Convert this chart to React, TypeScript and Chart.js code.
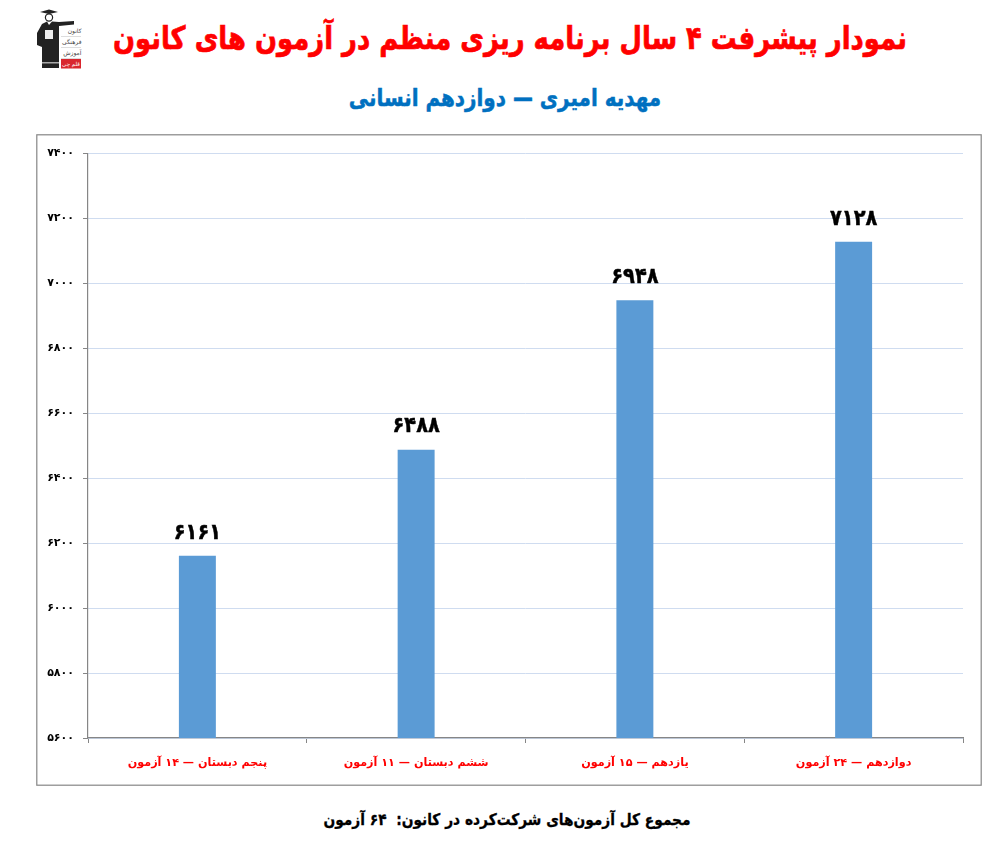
import React, { useEffect, useRef } from "react";
import { Chart, registerables } from "chart.js";

Chart.register(...registerables);

const categories = ["پنجم دبستان — ۱۴ آزمون", "ششم دبستان — ۱۱ آزمون", "یازدهم — ۱۵ آزمون", "دوازدهم — ۲۴ آزمون"];
const scores = [6161, 6488, 6948, 7128];
const yMin = 5600;
const yMax = 7400;
const yStep = 200;
const titleText = "نمودار پیشرفت ۴ سال برنامه ریزی منظم در آزمون های کانون";
const subtitleText = "مهدیه امیری — دوازدهم انسانی";
const footerText = "مجموع کل آزمون‌های شرکت‌کرده در کانون:  ۶۴ آزمون";
const logoLines = ["کانون", "فرهنگی", "آموزش"];
const logoBadge = "قلم چی";

const FONT = '"DejaVu Sans", "Noto Sans", sans-serif';
const GRAY = "#868686";

const fa = (n: number | string) => String(n).replace(/\d/g, (d) => "۰۱۲۳۴۵۶۷۸۹"[Number(d)]);

const framePlugin = {
  id: "frame",
  beforeDraw(chart: any) {
    const { ctx, width, height } = chart;
    ctx.save();
    ctx.strokeStyle = GRAY;
    ctx.lineWidth = 1.2;
    ctx.strokeRect(0.8, 0.8, width - 1.6, height - 1.6);
    ctx.restore();
  },
};

const valueLabels = {
  id: "valueLabels",
  afterDatasetsDraw(chart: any) {
    const { ctx } = chart;
    const meta = chart.getDatasetMeta(0);
    meta.data.forEach((bar: any, i: number) => {
      ctx.save();
      ctx.translate(bar.x, bar.y - 12);
      ctx.scale(0.88, 1);
      ctx.fillStyle = "#000";
      ctx.strokeStyle = "#000";
      ctx.lineWidth = 0.5;
      ctx.font = `bold 22px ${FONT}`;
      ctx.textAlign = "center";
      ctx.textBaseline = "bottom";
      ctx.fillText(fa(scores[i]), 0, 0);
      ctx.strokeText(fa(scores[i]), 0, 0);
      ctx.restore();
    });
  },
};

function Logo() {
  return (
    <svg style={{ position: "absolute", left: 36, top: 9 }} width={46} height={60} viewBox="0 0 46 60">
      <path d="M4 3 L13 0.5 L22 3 L13 5 Z" fill="#222" />
      <circle cx="13" cy="8.5" r="3.6" fill="#fff" stroke="#222" strokeWidth="1.2" />
      <path d="M6 15 L11 12.5 L13 16 L16 12.5 L23 13 L38 12 L38 15.5 L23 17 L23 59 L6 59 L6 38 L1 36 L1 24 Z" fill="#222" />
      <rect x="9" y="21" width="8" height="9" fill="#eee" />
      <rect x="6" y="53" width="17" height="1.5" fill="#aaa" />
      {logoLines.map((t, i) => (
        <g key={t}>
          <text x="45.5" y={24 + i * 11} textAnchor="start" direction="rtl" fontSize="6" fontFamily={FONT} fill="#444">{t}</text>
          <rect x="25" y={27 + i * 11} width="20" height="0.5" fill="#bbb" />
        </g>
      ))}
      <rect x="25" y="50" width="20" height="9.5" fill="#d9262e" />
      <text x="35" y="57" textAnchor="middle" direction="rtl" fontSize="5.5" fontFamily={FONT} fill="#fff">{logoBadge}</text>
    </svg>
  );
}

function Text({ x, y, size, color, sx, stroke, children }: any) {
  return (
    <div
      dir="rtl"
      style={{
        position: "absolute",
        left: x,
        top: y,
        transform: `translate(-50%, -50%) scaleX(${sx})`,
        whiteSpace: "pre",
        fontFamily: FONT,
        fontWeight: 700,
        fontSize: size,
        lineHeight: 1,
        color,
        WebkitTextStroke: `${stroke}px ${color}`,
      }}
    >
      {children}
    </div>
  );
}

export default function App() {
  const ref = useRef<HTMLCanvasElement>(null);

  useEffect(() => {
    const chart = new Chart(ref.current as HTMLCanvasElement, {
      type: "bar",
      data: {
        labels: categories,
        datasets: [
          {
            data: scores,
            backgroundColor: "#5b9bd5",
            borderWidth: 0,
            barPercentage: 0.169,
            categoryPercentage: 1,
          },
        ],
      },
      options: {
        responsive: false,
        animation: false,
        layout: { padding: { top: 19.5, right: 19, bottom: 0, left: 0 } },
        plugins: { legend: { display: false }, title: { display: false }, tooltip: { enabled: false } },
        scales: {
          x: {
            afterFit(scale: any) {
              scale.height = 48;
            },
            border: { color: GRAY, width: 1.2 },
            grid: { drawOnChartArea: false, drawTicks: true, tickLength: 5, tickColor: GRAY, offset: true },
            ticks: {
              color: "#ff0000",
              maxRotation: 0,
              autoSkip: false,
              padding: 13,
              font: { family: FONT, weight: "bold", size: 11.2 },
            },
          },
          y: {
            min: yMin,
            max: yMax,
            afterFit(scale: any) {
              scale.width = 52;
            },
            border: { color: GRAY, width: 1.2 },
            grid: { color: "#cfdcf0", lineWidth: 1, tickLength: 5, tickColor: GRAY },
            ticks: {
              stepSize: yStep,
              color: "#000",
              padding: 9,
              font: { family: FONT, weight: "bold", size: 11 },
              callback: (v: any) => fa(v),
            },
          },
        },
      },
      plugins: [framePlugin, valueLabels],
    } as any);
    return () => chart.destroy();
  }, []);

  return (
    <>
      <Logo />
      <Text x={510} y={38} size={32} color="#ff0000" sx={0.808} stroke={0.7}>{titleText}</Text>
      <Text x={505} y={98} size={24} color="#0070c0" sx={0.83} stroke={0.5}>{subtitleText}</Text>
      <canvas
        ref={ref}
        width={946}
        height={652}
        dir="rtl"
        style={{ position: "absolute", left: 36, top: 134, width: 946, height: 652 }}
      />
      <Text x={507} y={820} size={16} color="#000" sx={0.86} stroke={0.3}>{footerText}</Text>
    </>
  );
}
